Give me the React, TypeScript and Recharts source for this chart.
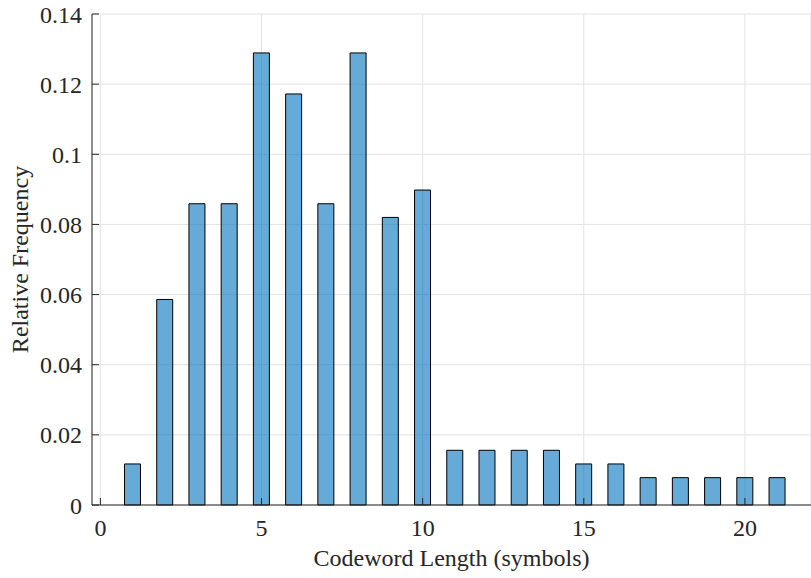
import { ComposedChart, Bar, XAxis, YAxis, CartesianGrid } from 'recharts';

document.body.style.margin = '0';

// codeword lengths (symbols) and their relative frequencies
const lengths = [1, 2, 3, 4, 5, 6, 7, 8, 9, 10, 11, 12, 13, 14, 15, 16, 17, 18, 19, 20, 21];
const frequencies = [
  0.0117, 0.0586, 0.0859, 0.0859, 0.1289, 0.1172, 0.0859, 0.1289, 0.082, 0.0898, 0.0156, 0.0156, 0.0156,
  0.0156, 0.0117, 0.0117, 0.0078, 0.0078, 0.0078, 0.0078, 0.0078,
];
const xTicks = [0, 5, 10, 15, 20];
const yTicks = [0, 0.02, 0.04, 0.06, 0.08, 0.1, 0.12, 0.14];

const chartData = lengths.map((len, i) => ({ len, freq: frequencies[i] }));

const font = 'Liberation Serif, DejaVu Serif, serif';
const textStyle = { fill: '#262626', fontSize: 24, fontFamily: font };
const axisColor = '#262626';

export default function App() {
  return (
    <div style={{ fontFamily: font }}>
      <ComposedChart width={811} height={578} data={chartData} margin={{ top: 14, right: 0, bottom: 0, left: 0 }}>
        <CartesianGrid stroke="#e3e3e3" strokeWidth={1} />
        <XAxis
          dataKey="len"
          type="number"
          domain={[-0.26, 22.05]}
          ticks={xTicks}
          allowDataOverflow
          height={73}
          stroke={axisColor}
          tickSize={-7}
          tickMargin={21}
          tick={{ ...textStyle, style: textStyle }}
          label={{
            value: 'Codeword Length (symbols)',
            position: 'insideBottom',
            offset: 12,
            style: textStyle,
          }}
        />
        <XAxis
          xAxisId="top"
          orientation="top"
          dataKey="len"
          type="number"
          domain={[-0.26, 22.05]}
          ticks={xTicks}
          allowDataOverflow
          height={0}
          stroke={axisColor}
          tickSize={-7}
          tick={false}
        />
        <YAxis
          type="number"
          domain={[0, 0.14]}
          ticks={yTicks}
          width={92}
          stroke={axisColor}
          tickSize={-7}
          tickMargin={17}
          tick={{ ...textStyle, style: textStyle }}
          label={{
            value: 'Relative Frequency',
            angle: -90,
            position: 'insideLeft',
            offset: 19,
            style: { ...textStyle, textAnchor: 'middle' },
          }}
        />
        <Bar dataKey="freq" barSize={16} fill="#0072BD" fillOpacity={0.6} stroke="#000" strokeWidth={1} isAnimationActive={false} />
      </ComposedChart>
    </div>
  );
}
